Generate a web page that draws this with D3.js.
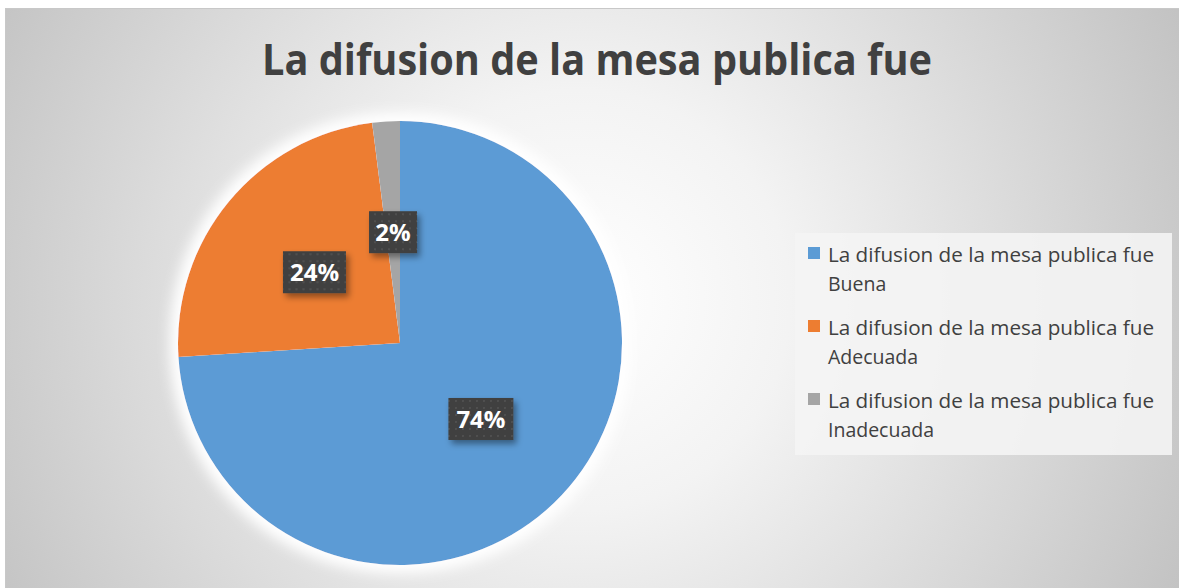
<!DOCTYPE html>
<html><head><meta charset="utf-8">
<script src="https://cdn.jsdelivr.net/npm/d3@7/dist/d3.min.js"></script>
<style>html,body{margin:0;padding:0;background:#fff;}svg{display:block;}</style>
</head><body>
<svg id="c" width="1179" height="588"></svg>
<script>
const title = "La difusion de la mesa publica fue";
const categories = ["La difusion de la mesa publica fue Buena","La difusion de la mesa publica fue Adecuada","La difusion de la mesa publica fue Inadecuada"];
const legendLines = [["La difusion de la mesa publica fue","Buena"],["La difusion de la mesa publica fue","Adecuada"],["La difusion de la mesa publica fue","Inadecuada"]];
const values = [74, 24, 2];
const labels = ["74%","24%","2%"];
const colors = ["#5b9bd5","#ed7d31","#a5a5a5"];

const svg = d3.select("#c");
const W = 1179, H = 588;
const defs = svg.append("defs");
const rg = defs.append("radialGradient").attr("id","bg").attr("gradientUnits","userSpaceOnUse")
  .attr("cx",580).attr("cy",300).attr("r",700);
rg.append("stop").attr("offset","0").attr("stop-color","#ffffff");
rg.append("stop").attr("offset","0.3").attr("stop-color","#f3f3f3");
rg.append("stop").attr("offset","1").attr("stop-color","#bfbfbf");

const glow = defs.append("filter").attr("id","glow").attr("x","-20%").attr("y","-20%").attr("width","140%").attr("height","140%");
glow.append("feMorphology").attr("in","SourceAlpha").attr("operator","dilate").attr("radius",4).attr("result","d");
glow.append("feGaussianBlur").attr("in","d").attr("stdDeviation",8).attr("result","b");
glow.append("feFlood").attr("flood-color","#ffffff").attr("result","w");
glow.append("feComposite").attr("in","w").attr("in2","b").attr("operator","in").attr("result","g");
const gm = glow.append("feMerge");
gm.append("feMergeNode").attr("in","g");
gm.append("feMergeNode").attr("in","g");
gm.append("feMergeNode").attr("in","SourceGraphic");

const sh = defs.append("filter").attr("id","sh").attr("x","-30%").attr("y","-30%").attr("width","170%").attr("height","170%");
sh.append("feDropShadow").attr("dx",3).attr("dy",4).attr("stdDeviation",3).attr("flood-color","#000").attr("flood-opacity",0.4);

const pat = defs.append("pattern").attr("id","dots").attr("patternUnits","userSpaceOnUse").attr("width",7).attr("height",7);
pat.append("rect").attr("width",7).attr("height",7).attr("fill","#404040");
pat.append("rect").attr("x",2).attr("y",2).attr("width",2).attr("height",2).attr("fill","#505050");

// chart area
svg.append("rect").attr("x",5).attr("y",8).attr("width",W-5).attr("height",H-8).attr("fill","url(#bg)");
svg.append("line").attr("x1",5).attr("x2",W).attr("y1",8.5).attr("y2",8.5).attr("stroke","#c8c8c8").attr("stroke-width",1);
svg.append("line").attr("x1",5.5).attr("x2",5.5).attr("y1",8).attr("y2",H).attr("stroke","#c8c8c8").attr("stroke-width",1);

svg.append("text").attr("x",597).attr("y",75).attr("text-anchor","middle")
  .attr("font-family","'Open Sans', sans-serif").attr("font-weight","bold").attr("font-size",43)
  .attr("fill","#404040").attr("textLength",670).attr("lengthAdjust","spacingAndGlyphs").text(title);

const cx = 400, cy = 343, R = 222;
const pie = d3.pie().sort(null).value(d=>d);
const arcs = pie(values);
const arc = d3.arc().innerRadius(0).outerRadius(R);
const labelArc = d3.arc().innerRadius(R*0.5).outerRadius(R*0.5);
const g = svg.append("g").attr("transform",`translate(${cx},${cy})`);
g.append("g").attr("filter","url(#glow)").selectAll("path").data(arcs).join("path")
  .attr("d",arc).attr("fill",(d,i)=>colors[i]);

const boxW = [65,63,48];
const lg = g.selectAll("g.lab").data(arcs).join("g").attr("class","lab")
  .attr("transform",d=>{const c=labelArc.centroid(d);return `translate(${c[0]},${c[1]})`;});
lg.append("rect").attr("x",(d,i)=>-boxW[i]/2).attr("y",-21).attr("width",(d,i)=>boxW[i]).attr("height",42)
  .attr("fill","url(#dots)").attr("filter","url(#sh)");
lg.append("text").attr("text-anchor","middle").attr("y",9)
  .attr("font-family","'Open Sans', sans-serif").attr("font-weight","bold").attr("font-size",24)
  .attr("fill","#ffffff").text((d,i)=>labels[i]);

// legend
const L = svg.append("g");
L.append("rect").attr("x",795).attr("y",233).attr("width",377).attr("height",222).attr("fill","#f4f4f4").attr("fill-opacity",0.9);
const li = L.selectAll("g.li").data(categories).join("g").attr("class","li")
  .attr("transform",(d,i)=>`translate(0,${i*73})`);
li.append("rect").attr("x",808).attr("y",247).attr("width",12).attr("height",12).attr("fill",(d,i)=>colors[i]);
li.each(function(d,i){
  const t = d3.select(this).append("text").attr("font-family","'Open Sans', sans-serif").attr("font-size",19.5).attr("fill","#404040");
  legendLines[i].forEach((s,k)=>{
    t.append("tspan").attr("x",828).attr("y",262+k*29).text(s)
     .attr("textLength",k===0?326:null).attr("lengthAdjust","spacingAndGlyphs");
  });
});
</script>
</body></html>
